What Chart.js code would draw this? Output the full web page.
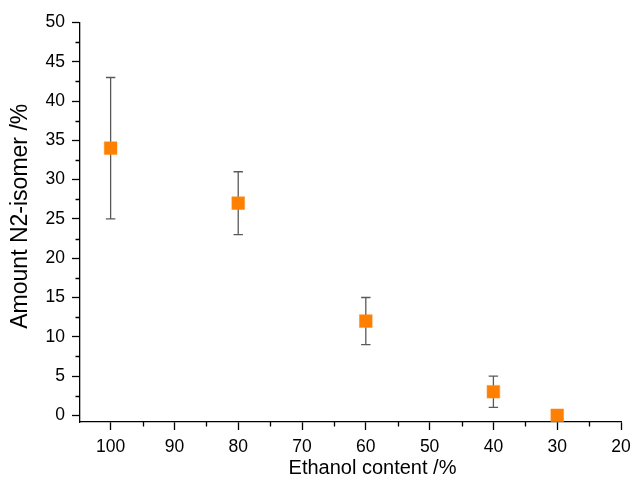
<!DOCTYPE html>
<html>
<head>
<meta charset="utf-8">
<script src="https://cdn.jsdelivr.net/npm/chart.js@4/dist/chart.umd.min.js"></script>
<style>
  html, body { margin: 0; padding: 0; background: #fff; }
  #wrap { width: 632px; height: 482px; }
</style>
</head>
<body>
<div id="wrap"><canvas id="c" width="632" height="482"></canvas></div>
<script>
const ethanol = [100, 80, 60, 40, 30];
const amount = [34, 27, 12, 3, 0];
const errLow = [25, 23, 9, 1, null];
const errHigh = [43, 31, 15, 5, null];
const xMajorTicks = [100, 90, 80, 70, 60, 50, 40, 30, 20];
const xMinorTicks = [95, 85, 75, 65, 55, 45, 35, 25];
const yMajorTicks = [0, 5, 10, 15, 20, 25, 30, 35, 40, 45, 50];
const yMinorTicks = [2.5, 7.5, 12.5, 17.5, 22.5, 27.5, 32.5, 37.5, 42.5, 47.5];
const xTitle = 'Ethanol content /%';
const yTitle = 'Amount N2-isomer /%';

const FONT = "'Liberation Sans', Arial, sans-serif";

const errorBars = {
  id: 'errorBars',
  beforeDatasetsDraw(chart) {
    const ctx = chart.ctx;
    const xs = chart.scales.x, ys = chart.scales.y;
    ctx.save();
    ctx.strokeStyle = '#5a5a5a';
    ctx.lineWidth = 1.3;
    for (let i = 0; i < ethanol.length; i++) {
      if (errLow[i] == null || errHigh[i] == null) continue;
      const x = xs.getPixelForValue(ethanol[i]);
      const y1 = ys.getPixelForValue(errLow[i]);
      const y2 = ys.getPixelForValue(errHigh[i]);
      ctx.beginPath();
      ctx.moveTo(x, y1); ctx.lineTo(x, y2);
      ctx.moveTo(x - 4.7, y1); ctx.lineTo(x + 4.7, y1);
      ctx.moveTo(x - 4.7, y2); ctx.lineTo(x + 4.7, y2);
      ctx.stroke();
    }
    ctx.restore();
  }
};

const minorTicksAndTitle = {
  id: 'minorTicksAndTitle',
  afterDraw(chart) {
    const ctx = chart.ctx;
    const xs = chart.scales.x, ys = chart.scales.y;
    const ca = chart.chartArea;
    ctx.save();
    ctx.strokeStyle = '#000';
    ctx.lineWidth = 1.3;
    ctx.beginPath();
    xMinorTicks.forEach(v => {
      const x = Math.round(xs.getPixelForValue(v)) + 0.5;
      ctx.moveTo(x, ca.bottom); ctx.lineTo(x, ca.bottom + 4.5);
    });
    yMinorTicks.forEach(v => {
      const y = Math.round(ys.getPixelForValue(v)) + 0.5;
      ctx.moveTo(ca.left, y); ctx.lineTo(ca.left - 4.5, y);
    });
    ctx.stroke();
    // x axis title (slightly right of centre as in the reference)
    ctx.fillStyle = '#000';
    ctx.font = "20px " + FONT;
    ctx.textAlign = 'center';
    ctx.textBaseline = 'middle';
    ctx.fillText(xTitle, (ca.left + ca.right) / 2 + 22, 468);
    // y axis title
    ctx.translate(21, (ca.top + ca.bottom) / 2 - 6);
    ctx.rotate(-Math.PI / 2);
    ctx.font = "23px " + FONT;
    ctx.fillText(yTitle, 0, 0);
    ctx.restore();
  }
};

new Chart(document.getElementById('c'), {
  type: 'scatter',
  data: {
    datasets: [{
      data: ethanol.map((e, i) => ({ x: e, y: amount[i] })),
      pointStyle: 'rect',
      pointRadius: 9,
      pointHoverRadius: 9,
      backgroundColor: '#ff8000',
      borderColor: '#ff8c1a',
      borderWidth: 0.5
    }]
  },
  options: {
    responsive: false,
    animation: false,
    devicePixelRatio: 1,
    layout: { padding: { top: 22.5, right: 11, left: 0, bottom: 0 } },
    plugins: { legend: { display: false }, tooltip: { enabled: false } },
    scales: {
      x: {
        type: 'linear',
        reverse: true,
        min: 20,
        max: 104.8,
        afterBuildTicks: (s) => { s.ticks = xMajorTicks.map(v => ({ value: v })); },
        afterFit: (s) => { s.height = 60; s.paddingLeft = 0; s.paddingRight = 0; },
        border: { display: true, color: '#000', width: 1.3 },
        grid: { display: true, drawOnChartArea: false, drawTicks: true, tickLength: 8, tickColor: '#000', tickWidth: 1.3 },
        ticks: { color: '#000', font: { family: FONT, size: 17.5 }, padding: 7, maxRotation: 0, autoSkip: false },
        title: { display: false, text: xTitle }
      },
      y: {
        type: 'linear',
        min: -0.85,
        max: 50,
        afterBuildTicks: (s) => { s.ticks = yMajorTicks.map(v => ({ value: v })); },
        afterFit: (s) => { s.width = 80; s.paddingTop = 0; s.paddingBottom = 0; },
        border: { display: true, color: '#000', width: 1.3 },
        grid: { display: true, drawOnChartArea: false, drawTicks: true, tickLength: 8, tickColor: '#000', tickWidth: 1.3 },
        ticks: { color: '#000', font: { family: FONT, size: 17.5 }, padding: 7, autoSkip: false },
        title: { display: false, text: yTitle }
      }
    }
  },
  plugins: [errorBars, minorTicksAndTitle]
});
</script>
</body>
</html>
